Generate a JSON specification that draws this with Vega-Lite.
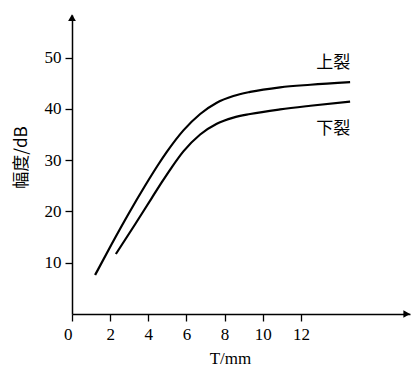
{
  "$schema": "https://vega.github.io/schema/vega-lite/v6.json",
  "width": 338,
  "height": 299,
  "autosize": "none",
  "padding": {"left": 72, "top": 15, "right": 1, "bottom": 53},
  "background": "white",
  "config": {"view": {"stroke": null}, "font": "Liberation Serif"},
  "datasets": {
    "curves": [
      {"T": 1.21, "A": 7.6, "s": "上裂"},
      {"T": 2.09, "A": 13.7, "s": "上裂"},
      {"T": 2.96, "A": 19.5, "s": "上裂"},
      {"T": 3.83, "A": 25.0, "s": "上裂"},
      {"T": 4.5, "A": 29.0, "s": "上裂"},
      {"T": 4.97, "A": 31.6, "s": "上裂"},
      {"T": 5.84, "A": 35.8, "s": "上裂"},
      {"T": 6.72, "A": 39.0, "s": "上裂"},
      {"T": 7.59, "A": 41.2, "s": "上裂"},
      {"T": 8.46, "A": 42.5, "s": "上裂"},
      {"T": 9.34, "A": 43.3, "s": "上裂"},
      {"T": 10.91, "A": 44.2, "s": "上裂"},
      {"T": 12.5, "A": 44.7, "s": "上裂"},
      {"T": 14.58, "A": 45.2, "s": "上裂"},
      {"T": 2.3, "A": 11.7, "s": "下裂"},
      {"T": 3.31, "A": 17.5, "s": "下裂"},
      {"T": 4.18, "A": 22.6, "s": "下裂"},
      {"T": 4.71, "A": 25.7, "s": "下裂"},
      {"T": 5.23, "A": 28.6, "s": "下裂"},
      {"T": 5.84, "A": 31.7, "s": "下裂"},
      {"T": 6.72, "A": 35.0, "s": "下裂"},
      {"T": 7.59, "A": 37.1, "s": "下裂"},
      {"T": 8.46, "A": 38.3, "s": "下裂"},
      {"T": 9.34, "A": 39.0, "s": "下裂"},
      {"T": 10.91, "A": 39.9, "s": "下裂"},
      {"T": 12.5, "A": 40.6, "s": "下裂"},
      {"T": 14.58, "A": 41.4, "s": "下裂"}
    ],
    "labels": [
      {"T": 13.7, "A": 49.0, "s": "上裂"},
      {"T": 13.7, "A": 36.0, "s": "下裂"}
    ],
    "arrows": [
      {"T": 17.55, "A": 0, "shape": "triangle-right"},
      {"T": 0, "A": 57.8, "shape": "triangle-up"}
    ]
  },
  "layer": [
    {
      "data": {"name": "curves"},
      "mark": {"type": "line", "interpolate": "monotone", "color": "black", "strokeWidth": 2.2},
      "encoding": {
        "x": {
          "field": "T", "type": "quantitative",
          "scale": {"domain": [0, 17.72], "nice": false},
          "axis": {
            "values": [0, 2, 4, 6, 8, 10, 12],
            "title": "T/mm",
            "titleFont": "Liberation Serif",
            "titleFontSize": 17,
            "titleFontWeight": "normal",
            "titleColor": "black",
            "titleX": 158,
            "titlePadding": 8,
            "labelFont": "Liberation Serif",
            "labelFontSize": 17,
            "labelColor": "black",
            "labelAlign": {"condition": {"test": "datum.value == 0", "value": "right"}, "value": "center"},
            "labelPadding": 5,
            "tickSize": 7,
            "tickColor": "black",
            "tickWidth": 1.3,
            "domainColor": "black",
            "domainWidth": 1.5,
            "grid": false,
            "encode": {"ticks": {"update": {"y2": {"value": -7}, "opacity": {"signal": "datum.value == 0 ? 0 : 1"}}}}
          }
        },
        "y": {
          "field": "A", "type": "quantitative",
          "scale": {"domain": [0, 58.3], "nice": false},
          "axis": {
            "values": [10, 20, 30, 40, 50],
            "title": "幅度/dB",
            "titleFont": "Noto Sans CJK SC",
            "titleFontSize": 17,
            "titleFontWeight": "normal",
            "titleColor": "black",
            "titleY": 142,
            "titlePadding": 14,
            "labelFont": "Liberation Serif",
            "labelFontSize": 17,
            "labelColor": "black",
            "labelPadding": 4,
            "tickSize": 7,
            "tickColor": "black",
            "tickWidth": 1.3,
            "domainColor": "black",
            "domainWidth": 1.5,
            "grid": false,
            "encode": {"ticks": {"update": {"x2": {"value": 7}}}}
          }
        },
        "detail": {"field": "s"}
      }
    },
    {
      "data": {"name": "labels"},
      "mark": {"type": "text", "font": "Noto Sans CJK SC", "fontSize": 17, "color": "black"},
      "encoding": {
        "x": {"field": "T", "type": "quantitative"},
        "y": {"field": "A", "type": "quantitative"},
        "text": {"field": "s"}
      }
    },
    {
      "data": {"name": "arrows"},
      "mark": {"type": "point", "filled": true, "color": "black", "size": 60, "opacity": 1},
      "encoding": {
        "x": {"field": "T", "type": "quantitative"},
        "y": {"field": "A", "type": "quantitative"},
        "shape": {"field": "shape", "type": "nominal", "scale": null}
      }
    }
  ]
}
